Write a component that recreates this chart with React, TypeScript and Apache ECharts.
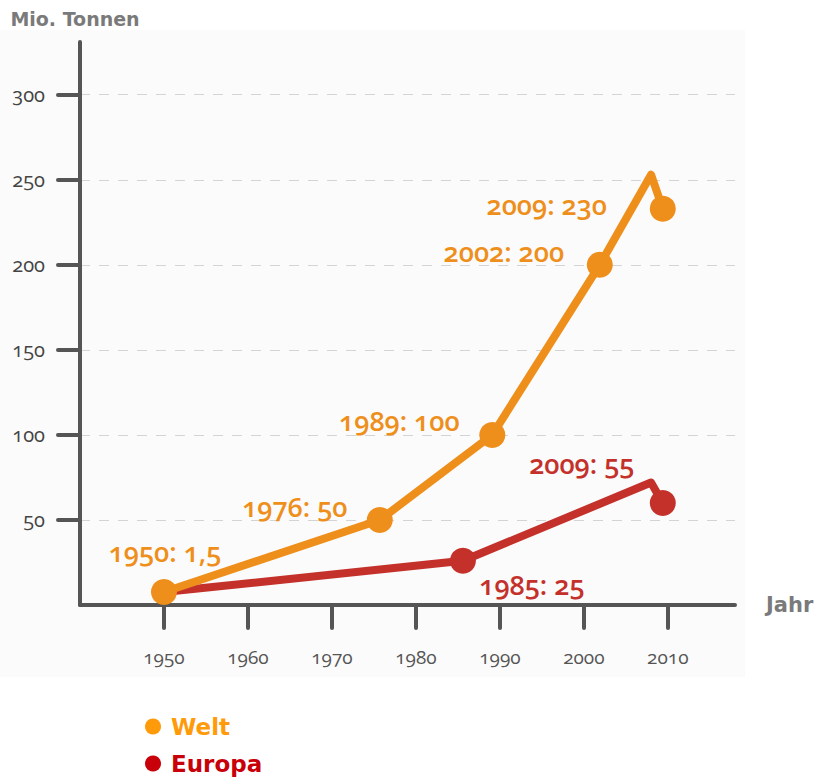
import React, { useEffect, useRef } from "react";
import * as echarts from "echarts";

// Drawn positions: [year, Mio. Tonnen]
const weltPoints: [number, number][] = [
  [1950, 7.6],
  [1975.7, 50],
  [1989.1, 100],
  [2001.9, 200],
  [2008, 253],
  [2009.4, 233],
];
const weltMarkers = [true, true, true, true, false, true];
const weltLabels = ["1950: 1,5", "1976: 50", "1989: 100", "2002: 200", "", "2009: 230"];
const weltLabelOffsets: [number, number][] = [[1, -41], [-85, -13], [-93, -14], [-96, -13], [0, 0], [-116, -4]];

const europaPoints: [number, number][] = [
  [1950, 7.6],
  [1985.6, 26],
  [2008, 72],
  [2009.4, 60],
];
const europaMarkers = [false, true, false, true];
const europaLabels = ["", "1985: 25", "", "2009: 55"];
const europaLabelOffsets: [number, number][] = [[0, 0], [69, 24], [0, 0], [-81, -39]];

const xTicks = [1950, 1960, 1970, 1980, 1990, 2000, 2010];
const yTicks = [50, 100, 150, 200, 250, 300];

const seriesNames = ["Welt", "Europa"];
const lineColors = ["#ef8f1b", "#c4312b"];
const legendColors = ["#ff9a0a", "#c8000a"];
const legendTops = [715, 752];

function buildData(points: [number, number][], markers: boolean[], labels: string[], offsets: [number, number][]) {
  return points.map((p, i) => ({
    value: p,
    symbolSize: markers[i] ? 26 : 0,
    label: labels[i]
      ? {
          show: true,
          position: "inside",
          formatter: labels[i],
          offset: offsets[i],
        }
      : { show: false },
  }));
}

export default function App() {
  const ref = useRef<HTMLDivElement>(null);
  useEffect(() => {
    const chart = echarts.init(ref.current!, null, { renderer: "svg" });
    const labelFont = {
      fontFamily: "'Open Sans', sans-serif",
      fontSize: 27,
      fontWeight: 600,
      align: "center",
      verticalAlign: "middle",
    };
    chart.setOption({
      animation: false,
      backgroundColor: "#ffffff",
      graphic: [
        {
          type: "rect",
          z: -10,
          silent: true,
          shape: { x: 0, y: 30, width: 745, height: 647 },
          style: { fill: "#fbfbfb" },
        },
      ],
      grid: { left: 80, right: 84, top: 42, bottom: 175 },
      xAxis: {
        type: "value",
        min: 1940,
        max: 2018,
        interval: 10,
        name: "Jahr",
        nameLocation: "end",
        nameGap: 31,
        nameTextStyle: { color: "#7a7a7a", fontFamily: "'DejaVu Sans', sans-serif", fontWeight: "bold", fontSize: 21, verticalAlign: "middle" },
        axisLine: { lineStyle: { color: "#555555", width: 4, cap: "round" } },
        axisTick: { show: true, length: 23, customValues: xTicks, lineStyle: { color: "#555555", width: 4, cap: "round" } },
        axisLabel: {
          customValues: xTicks,
          margin: 42,
          color: "#555555",
          fontSize: 19,
          fontFamily: "'Open Sans', sans-serif",
          formatter: (v: number) => String(v),
        },
        splitLine: { show: false },
      },
      yAxis: {
        type: "value",
        min: 0,
        max: 331,
        interval: 50,
        name: "Mio. Tonnen",
        nameLocation: "end",
        nameGap: 14,
        nameTextStyle: {
          color: "#7a7a7a",
          fontFamily: "'DejaVu Sans', sans-serif",
          fontWeight: "bold",
          fontSize: 19,
          align: "center",
          padding: [0, 10, 0, 0],
        },
        axisLine: { show: true, lineStyle: { color: "#555555", width: 4, cap: "round" } },
        axisTick: { show: true, length: 22, customValues: yTicks, lineStyle: { color: "#555555", width: 4, cap: "round" } },
        axisLabel: {
          customValues: yTicks,
          margin: 35,
          color: "#444444",
          fontSize: 20,
          fontFamily: "'Open Sans', sans-serif",
          formatter: (v: number) => String(v),
        },
        splitLine: { show: true, lineStyle: { color: "#d4d4d4", width: 1, type: [10, 9] } },
      },
      legend: seriesNames.map((n, i) => ({
        orient: "vertical",
        left: 145,
        top: legendTops[i],
        padding: 0,
        icon: "circle",
        itemWidth: 26,
        itemHeight: 16,
        selectedMode: false,
        data: [
          {
            name: n,
            itemStyle: { color: legendColors[i] },
            textStyle: {
              color: legendColors[i],
              fontFamily: "'DejaVu Sans', sans-serif",
              fontWeight: "bold",
              fontSize: 23,
              lineHeight: 22,
            },
          },
        ],
      })),
      series: [
        {
          name: seriesNames[1],
          type: "line",
          z: 2,
          symbol: "circle",
          color: lineColors[1],
          lineStyle: { width: 8, color: lineColors[1], cap: "round", join: "round" },
          itemStyle: { color: lineColors[1] },
          label: { ...labelFont, color: lineColors[1] },
          data: buildData(europaPoints, europaMarkers, europaLabels, europaLabelOffsets),
        },
        {
          name: seriesNames[0],
          type: "line",
          z: 3,
          symbol: "circle",
          color: lineColors[0],
          lineStyle: { width: 8, color: lineColors[0], cap: "round", join: "round" },
          itemStyle: { color: lineColors[0] },
          label: { ...labelFont, color: lineColors[0] },
          data: buildData(weltPoints, weltMarkers, weltLabels, weltLabelOffsets),
        },
      ],
    });
    return () => chart.dispose();
  }, []);
  return (
    <>
      <style>{`body{margin:0} svg text{font-variant-numeric: oldstyle-nums !important;}`}</style>
      <div ref={ref} style={{ width: 819, height: 780 }} />
    </>
  );
}
